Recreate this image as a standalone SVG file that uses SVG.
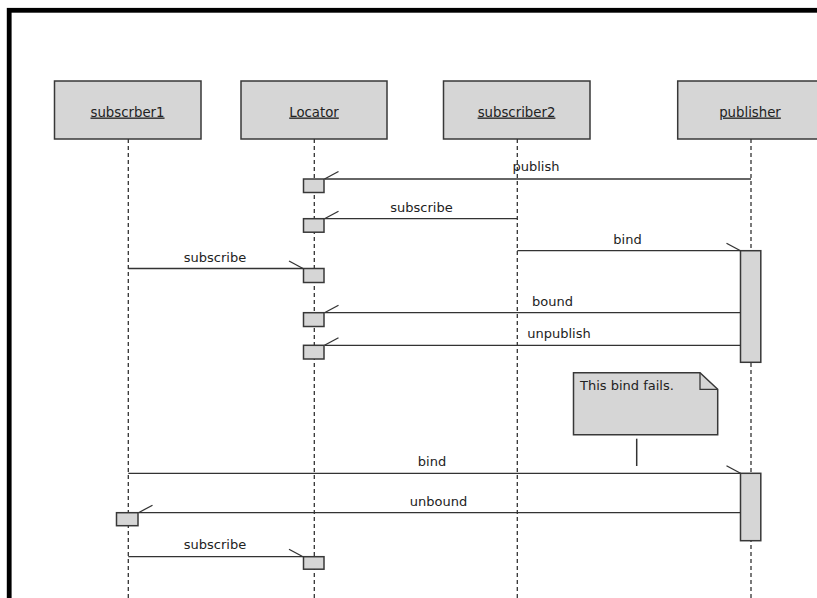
<svg xmlns="http://www.w3.org/2000/svg" width="817" height="598" viewBox="0 0 817 598">
<style>
  .hdr { fill: #d6d6d6; stroke: #383838; stroke-width: 1.5; }
  .act { fill: #d6d6d6; stroke: #383838; stroke-width: 1.5; }
  .life { stroke: #333; stroke-width: 1.3; stroke-dasharray: 4 3; fill: none; }
  .msg { stroke: #333; stroke-width: 1.3; fill: none; }
  .hl { font-family: "DejaVu Sans", Verdana, sans-serif; font-size: 13.3px; fill: #222; text-anchor: middle; text-decoration: underline; }
  .lbl { font-family: "DejaVu Sans", Verdana, sans-serif; font-size: 13px; fill: #222; text-anchor: middle; }
  .note { fill: #d6d6d6; stroke: #383838; stroke-width: 1.5; }
</style>
<defs>
  <marker id="hr" viewBox="-16 -10 18 12" refX="0" refY="0" markerWidth="18" markerHeight="12" markerUnits="userSpaceOnUse" orient="auto">
    <path d="M-14,-7.5 L0,0" stroke="#333" stroke-width="1.3" fill="none"/>
  </marker>
  <marker id="hlm" viewBox="-16 -2 18 12" refX="0" refY="0" markerWidth="18" markerHeight="12" markerUnits="userSpaceOnUse" orient="auto">
    <path d="M-14,7.5 L0,0" stroke="#333" stroke-width="1.3" fill="none"/>
  </marker>
</defs>
<rect x="0" y="0" width="817" height="598" fill="#ffffff"/>
<rect id="frame" x="9.2" y="10.3" width="900" height="700" fill="#ffffff" stroke="#000" stroke-width="4.8"/>

<g id="subscrber1">
  <rect class="hdr" x="54.5" y="81" width="146.5" height="58"/>
  <text class="hl" x="127.5" y="116.5">subscrber1</text>
  <line class="life" x1="128.3" y1="139" x2="128.3" y2="598"/>
  <rect class="act" x="116.5" y="512.7" width="21.5" height="13"/>
</g>
<g id="Locator">
  <rect class="hdr" x="241" y="81" width="146" height="58"/>
  <text class="hl" x="314" y="116.5">Locator</text>
  <line class="life" x1="314.3" y1="139" x2="314.3" y2="598"/>
  <rect class="act" x="303.5" y="179" width="20.5" height="13.5"/>
  <rect class="act" x="303.5" y="218.7" width="20.5" height="13.5"/>
  <rect class="act" x="303.5" y="268.5" width="20.5" height="14"/>
  <rect class="act" x="303.5" y="312.7" width="20.5" height="13.8"/>
  <rect class="act" x="303.5" y="345.3" width="20.5" height="13.7"/>
  <rect class="act" x="303.5" y="556.7" width="20.5" height="12.5"/>
</g>
<g id="subscriber2">
  <rect class="hdr" x="443.5" y="81" width="146.5" height="58"/>
  <text class="hl" x="516.5" y="116.5">subscriber2</text>
  <line class="life" x1="517.3" y1="139" x2="517.3" y2="598"/>
</g>
<g id="publisher">
  <rect class="hdr" x="677.7" y="81" width="147" height="58"/>
  <text class="hl" x="750" y="116.5">publisher</text>
  <line class="life" x1="751" y1="139" x2="751" y2="598"/>
  <rect class="act" x="740.5" y="250.7" width="20.3" height="111.6"/>
  <rect class="act" x="740.5" y="473.3" width="20.3" height="67.4"/>
</g>
<g id="note">
  <polygon class="note" points="573.5,372.7 700,372.7 717.7,389.3 717.7,434.7 573.5,434.7"/>
  <polyline points="700,372.7 700,389.3 717.7,389.3" fill="none" stroke="#383838" stroke-width="1.3"/>
  <text class="lbl" x="580" y="389.5" style="text-anchor:start">This bind fails.</text>
  <line x1="636.7" y1="438.7" x2="636.7" y2="466" stroke="#333" stroke-width="1.5"/>
</g>

<g id="connectors">
  <line class="msg" x1="751" y1="179" x2="324.5" y2="179" marker-end="url(#hlm)"/>
  <text class="lbl" x="536" y="171">publish</text>

  <line class="msg" x1="517.3" y1="218.7" x2="324.5" y2="218.7" marker-end="url(#hlm)"/>
  <text class="lbl" x="421.5" y="211.5">subscribe</text>

  <line class="msg" x1="517.3" y1="250.7" x2="740.5" y2="250.7" marker-end="url(#hr)"/>
  <text class="lbl" x="627.5" y="243.5">bind</text>

  <line class="msg" x1="128.3" y1="268.5" x2="303" y2="268.5" marker-end="url(#hr)"/>
  <text class="lbl" x="215" y="261.5">subscribe</text>

  <line class="msg" x1="740.5" y1="312.7" x2="324.5" y2="312.7" marker-end="url(#hlm)"/>
  <text class="lbl" x="552.5" y="305.5">bound</text>

  <line class="msg" x1="740.5" y1="345.3" x2="324.5" y2="345.3" marker-end="url(#hlm)"/>
  <text class="lbl" x="559" y="338">unpublish</text>

  <line class="msg" x1="128.3" y1="473.3" x2="740.5" y2="473.3" marker-end="url(#hr)"/>
  <text class="lbl" x="432" y="466">bind</text>

  <line class="msg" x1="740.5" y1="512.7" x2="138.5" y2="512.7" marker-end="url(#hlm)"/>
  <text class="lbl" x="438.5" y="505.5">unbound</text>

  <line class="msg" x1="128.3" y1="556.7" x2="303" y2="556.7" marker-end="url(#hr)"/>
  <text class="lbl" x="215" y="549">subscribe</text>
</g>
</svg>
